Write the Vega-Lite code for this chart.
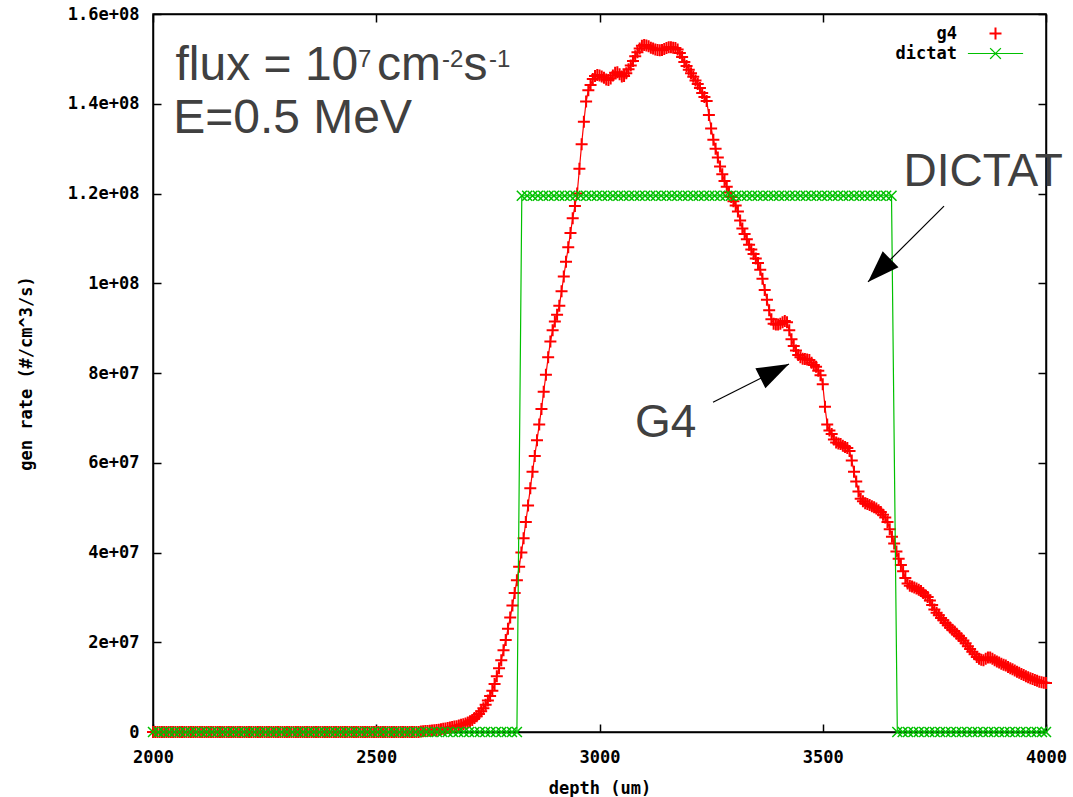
{
"$schema":"https://vega.github.io/schema/vega-lite/v6.json",
"width":893,"height":718,
"autosize":{"type":"none"},
"padding":{"left":153,"top":14,"right":27,"bottom":65},
"background":"white",
"config":{
 "view":{"stroke":"black","strokeWidth":1.5},
 "axis":{"grid":false,"domainColor":"black","domainWidth":1.5,"tickColor":"black","tickWidth":1.5,"labelFont":"DejaVu Sans Mono","labelFontWeight":"bold","labelFontSize":17,"labelColor":"black","titleFont":"DejaVu Sans Mono","titleFontWeight":"bold","titleFontSize":17,"titleColor":"black","labelFlush":false,"labelOverlap":false},
 "legend":{"orient":"none","title":null,"padding":0,"labelAlign":"right","labelOffset":-47,"labelFont":"DejaVu Sans Mono","labelFontWeight":"bold","labelFontSize":17,"labelColor":"black","symbolSize":144,"symbolFillColor":"transparent","symbolOpacity":1}
},
"datasets":{
"g4":[
{"depth":2000,"rate":0},{"depth":2005,"rate":0},{"depth":2010,"rate":0},{"depth":2015,"rate":0},{"depth":2020,"rate":0},{"depth":2025,"rate":0},{"depth":2030,"rate":0},{"depth":2035,"rate":0},{"depth":2040,"rate":0},{"depth":2045,"rate":0},
{"depth":2050,"rate":0},{"depth":2055,"rate":0},{"depth":2060,"rate":0},{"depth":2065,"rate":0},{"depth":2070,"rate":0},{"depth":2075,"rate":0},{"depth":2080,"rate":0},{"depth":2085,"rate":0},{"depth":2090,"rate":0},{"depth":2095,"rate":0},
{"depth":2100,"rate":0},{"depth":2105,"rate":0},{"depth":2110,"rate":0},{"depth":2115,"rate":0},{"depth":2120,"rate":0},{"depth":2125,"rate":0},{"depth":2130,"rate":0},{"depth":2135,"rate":0},{"depth":2140,"rate":0},{"depth":2145,"rate":0},
{"depth":2150,"rate":0},{"depth":2155,"rate":0},{"depth":2160,"rate":0},{"depth":2165,"rate":0},{"depth":2170,"rate":0},{"depth":2175,"rate":0},{"depth":2180,"rate":0},{"depth":2185,"rate":0},{"depth":2190,"rate":0},{"depth":2195,"rate":0},
{"depth":2200,"rate":0},{"depth":2205,"rate":0},{"depth":2210,"rate":0},{"depth":2215,"rate":0},{"depth":2220,"rate":0},{"depth":2225,"rate":0},{"depth":2230,"rate":0},{"depth":2235,"rate":0},{"depth":2240,"rate":0},{"depth":2245,"rate":0},
{"depth":2250,"rate":0},{"depth":2255,"rate":0},{"depth":2260,"rate":0},{"depth":2265,"rate":0},{"depth":2270,"rate":0},{"depth":2275,"rate":0},{"depth":2280,"rate":0},{"depth":2285,"rate":0},{"depth":2290,"rate":0},{"depth":2295,"rate":0},
{"depth":2300,"rate":0},{"depth":2305,"rate":0},{"depth":2310,"rate":0},{"depth":2315,"rate":0},{"depth":2320,"rate":0},{"depth":2325,"rate":0},{"depth":2330,"rate":0},{"depth":2335,"rate":0},{"depth":2340,"rate":0},{"depth":2345,"rate":0},
{"depth":2350,"rate":0},{"depth":2355,"rate":0},{"depth":2360,"rate":0},{"depth":2365,"rate":0},{"depth":2370,"rate":0},{"depth":2375,"rate":0},{"depth":2380,"rate":0},{"depth":2385,"rate":0},{"depth":2390,"rate":0},{"depth":2395,"rate":0},
{"depth":2400,"rate":0},{"depth":2405,"rate":0},{"depth":2410,"rate":0},{"depth":2415,"rate":0},{"depth":2420,"rate":0},{"depth":2425,"rate":0},{"depth":2430,"rate":0},{"depth":2435,"rate":0},{"depth":2440,"rate":0},{"depth":2445,"rate":0},
{"depth":2450,"rate":0},{"depth":2455,"rate":0},{"depth":2460,"rate":0},{"depth":2465,"rate":0},{"depth":2470,"rate":0},{"depth":2475,"rate":0},{"depth":2480,"rate":0},{"depth":2485,"rate":0},{"depth":2490,"rate":0},{"depth":2495,"rate":0},
{"depth":2500,"rate":0},{"depth":2505,"rate":0},{"depth":2510,"rate":0},{"depth":2515,"rate":0},{"depth":2520,"rate":0},{"depth":2525,"rate":0},{"depth":2530,"rate":0},{"depth":2535,"rate":0},{"depth":2540,"rate":0},{"depth":2545,"rate":0},
{"depth":2550,"rate":0},{"depth":2555,"rate":0},{"depth":2560,"rate":0},{"depth":2565,"rate":0},{"depth":2570,"rate":0},{"depth":2575,"rate":0},{"depth":2580,"rate":0},{"depth":2585,"rate":0},{"depth":2590,"rate":0},{"depth":2595,"rate":0},
{"depth":2600,"rate":0.1e6},{"depth":2605,"rate":0.15e6},{"depth":2610,"rate":0.2e6},{"depth":2615,"rate":0.25e6},{"depth":2620,"rate":0.3e6},{"depth":2625,"rate":0.35e6},{"depth":2630,"rate":0.4e6},{"depth":2635,"rate":0.45e6},{"depth":2640,"rate":0.5e6},{"depth":2645,"rate":0.6e6},
{"depth":2650,"rate":0.7e6},{"depth":2655,"rate":0.8e6},{"depth":2660,"rate":0.9e6},{"depth":2665,"rate":1.0e6},{"depth":2670,"rate":1.1e6},{"depth":2675,"rate":1.2e6},{"depth":2680,"rate":1.3e6},{"depth":2685,"rate":1.45e6},{"depth":2690,"rate":1.6e6},{"depth":2695,"rate":1.75e6},
{"depth":2700,"rate":1.9e6},{"depth":2705,"rate":2.1e6},{"depth":2710,"rate":2.4e6},{"depth":2715,"rate":2.7e6},{"depth":2720,"rate":3.1e6},{"depth":2725,"rate":3.5e6},{"depth":2730,"rate":4.0e6},{"depth":2735,"rate":4.6e6},{"depth":2740,"rate":5.3e6},{"depth":2745,"rate":6.1e6},
{"depth":2750,"rate":7.0e6},{"depth":2755,"rate":8.0e6},{"depth":2760,"rate":9.2e6},{"depth":2765,"rate":10.7e6},{"depth":2770,"rate":12.4e6},{"depth":2775,"rate":14.2e6},{"depth":2780,"rate":16.0e6},{"depth":2785,"rate":18.2e6},{"depth":2790,"rate":20.5e6},{"depth":2795,"rate":23.0e6},
{"depth":2800,"rate":25.5e6},{"depth":2805,"rate":28.2e6},{"depth":2810,"rate":31.0e6},{"depth":2815,"rate":33.8e6},{"depth":2820,"rate":36.8e6},{"depth":2825,"rate":40.0e6},{"depth":2830,"rate":43.2e6},{"depth":2835,"rate":46.8e6},{"depth":2840,"rate":50.5e6},{"depth":2845,"rate":54.3e6},
{"depth":2850,"rate":58.0e6},{"depth":2855,"rate":61.5e6},{"depth":2860,"rate":65.0e6},{"depth":2865,"rate":68.5e6},{"depth":2870,"rate":72.0e6},{"depth":2875,"rate":75.8e6},{"depth":2880,"rate":79.6e6},{"depth":2885,"rate":83.5e6},{"depth":2890,"rate":87.0e6},{"depth":2895,"rate":89.5e6},
{"depth":2900,"rate":91.5e6},{"depth":2905,"rate":93.0e6},{"depth":2910,"rate":95.0e6},{"depth":2915,"rate":98.2e6},{"depth":2920,"rate":101.5e6},{"depth":2925,"rate":104.8e6},{"depth":2930,"rate":108.0e6},{"depth":2935,"rate":111.2e6},{"depth":2940,"rate":114.5e6},{"depth":2945,"rate":117.2e6},
{"depth":2950,"rate":120.0e6},{"depth":2955,"rate":125.5e6},{"depth":2960,"rate":131.0e6},{"depth":2965,"rate":136.0e6},{"depth":2970,"rate":140.5e6},{"depth":2975,"rate":143.0e6},{"depth":2980,"rate":144.2e6},{"depth":2985,"rate":145.5e6},{"depth":2990,"rate":146.2e6},{"depth":2995,"rate":146.4e6},
{"depth":3000,"rate":146.3e6},{"depth":3005,"rate":146.1e6},{"depth":3010,"rate":145.8e6},{"depth":3015,"rate":145.4e6},{"depth":3020,"rate":145.3e6},{"depth":3025,"rate":145.6e6},{"depth":3030,"rate":146.3e6},{"depth":3035,"rate":146.9e6},{"depth":3040,"rate":147.0e6},{"depth":3045,"rate":146.6e6},
{"depth":3050,"rate":146.1e6},{"depth":3055,"rate":146.2e6},{"depth":3060,"rate":146.8e6},{"depth":3065,"rate":147.7e6},{"depth":3070,"rate":148.5e6},{"depth":3075,"rate":149.5e6},{"depth":3080,"rate":150.6e6},{"depth":3085,"rate":151.5e6},{"depth":3090,"rate":152.3e6},{"depth":3095,"rate":152.9e6},
{"depth":3100,"rate":153.1e6},{"depth":3105,"rate":153.0e6},{"depth":3110,"rate":152.8e6},{"depth":3115,"rate":152.5e6},{"depth":3120,"rate":152.3e6},{"depth":3125,"rate":152.1e6},{"depth":3130,"rate":152.0e6},{"depth":3135,"rate":151.9e6},{"depth":3140,"rate":152.0e6},{"depth":3145,"rate":152.2e6},
{"depth":3150,"rate":152.4e6},{"depth":3155,"rate":152.6e6},{"depth":3160,"rate":152.6e6},{"depth":3165,"rate":152.5e6},{"depth":3170,"rate":152.4e6},{"depth":3175,"rate":152.1e6},{"depth":3180,"rate":151.3e6},{"depth":3185,"rate":150.4e6},{"depth":3190,"rate":149.3e6},{"depth":3195,"rate":148.4e6},
{"depth":3200,"rate":147.6e6},{"depth":3205,"rate":146.8e6},{"depth":3210,"rate":146.0e6},{"depth":3215,"rate":145.2e6},{"depth":3220,"rate":144.4e6},{"depth":3225,"rate":143.5e6},{"depth":3230,"rate":142.4e6},{"depth":3235,"rate":141.5e6},{"depth":3240,"rate":140.6e6},{"depth":3245,"rate":137.5e6},
{"depth":3250,"rate":134.5e6},{"depth":3255,"rate":132.0e6},{"depth":3260,"rate":130.0e6},{"depth":3265,"rate":128.0e6},{"depth":3270,"rate":126.0e6},{"depth":3275,"rate":124.3e6},{"depth":3280,"rate":122.8e6},{"depth":3285,"rate":121.5e6},{"depth":3290,"rate":120.2e6},{"depth":3295,"rate":119.2e6},
{"depth":3300,"rate":118.3e6},{"depth":3305,"rate":117.3e6},{"depth":3310,"rate":116.0e6},{"depth":3315,"rate":114.0e6},{"depth":3320,"rate":112.2e6},{"depth":3325,"rate":111.0e6},{"depth":3330,"rate":109.8e6},{"depth":3335,"rate":108.6e6},{"depth":3340,"rate":107.5e6},{"depth":3345,"rate":106.5e6},
{"depth":3350,"rate":105.5e6},{"depth":3355,"rate":104.5e6},{"depth":3360,"rate":103.0e6},{"depth":3365,"rate":101.0e6},{"depth":3370,"rate":98.5e6},{"depth":3375,"rate":96.3e6},{"depth":3380,"rate":94.0e6},{"depth":3385,"rate":92.0e6},{"depth":3390,"rate":91.0e6},{"depth":3395,"rate":90.8e6},
{"depth":3400,"rate":90.8e6},{"depth":3405,"rate":91.0e6},{"depth":3410,"rate":91.3e6},{"depth":3415,"rate":91.6e6},{"depth":3420,"rate":91.3e6},{"depth":3425,"rate":89.5e6},{"depth":3430,"rate":87.5e6},{"depth":3435,"rate":86.0e6},{"depth":3440,"rate":85.0e6},{"depth":3445,"rate":84.0e6},
{"depth":3450,"rate":83.5e6},{"depth":3455,"rate":83.2e6},{"depth":3460,"rate":83.1e6},{"depth":3465,"rate":83.0e6},{"depth":3470,"rate":82.9e6},{"depth":3475,"rate":82.3e6},{"depth":3480,"rate":81.8e6},{"depth":3485,"rate":81.4e6},{"depth":3490,"rate":80.5e6},{"depth":3495,"rate":79.5e6},
{"depth":3500,"rate":77.5e6},{"depth":3505,"rate":72.5e6},{"depth":3510,"rate":68.5e6},{"depth":3515,"rate":67.2e6},{"depth":3520,"rate":66.4e6},{"depth":3525,"rate":65.2e6},{"depth":3530,"rate":64.5e6},{"depth":3535,"rate":64.3e6},{"depth":3540,"rate":64.2e6},{"depth":3545,"rate":63.8e6},
{"depth":3550,"rate":63.5e6},{"depth":3555,"rate":63.3e6},{"depth":3560,"rate":62.6e6},{"depth":3565,"rate":60.5e6},{"depth":3570,"rate":58.0e6},{"depth":3575,"rate":55.8e6},{"depth":3580,"rate":53.6e6},{"depth":3585,"rate":52.0e6},{"depth":3590,"rate":51.4e6},{"depth":3595,"rate":51.0e6},
{"depth":3600,"rate":50.8e6},{"depth":3605,"rate":50.6e6},{"depth":3610,"rate":50.3e6},{"depth":3615,"rate":50.1e6},{"depth":3620,"rate":49.8e6},{"depth":3625,"rate":49.4e6},{"depth":3630,"rate":49.0e6},{"depth":3635,"rate":48.4e6},{"depth":3640,"rate":47.8e6},{"depth":3645,"rate":46.8e6},
{"depth":3650,"rate":45.2e6},{"depth":3655,"rate":43.5e6},{"depth":3660,"rate":42.0e6},{"depth":3665,"rate":40.2e6},{"depth":3670,"rate":38.6e6},{"depth":3675,"rate":37.2e6},{"depth":3680,"rate":35.8e6},{"depth":3685,"rate":34.3e6},{"depth":3690,"rate":33.1e6},{"depth":3695,"rate":32.6e6},
{"depth":3700,"rate":32.4e6},{"depth":3705,"rate":32.2e6},{"depth":3710,"rate":32.0e6},{"depth":3715,"rate":31.7e6},{"depth":3720,"rate":31.4e6},{"depth":3725,"rate":31.0e6},{"depth":3730,"rate":30.5e6},{"depth":3735,"rate":30.1e6},{"depth":3740,"rate":29.3e6},{"depth":3745,"rate":28.3e6},
{"depth":3750,"rate":27.3e6},{"depth":3755,"rate":26.6e6},{"depth":3760,"rate":26.0e6},{"depth":3765,"rate":25.4e6},{"depth":3770,"rate":24.9e6},{"depth":3775,"rate":24.3e6},{"depth":3780,"rate":23.8e6},{"depth":3785,"rate":23.3e6},{"depth":3790,"rate":22.8e6},{"depth":3795,"rate":22.4e6},
{"depth":3800,"rate":21.9e6},{"depth":3805,"rate":21.4e6},{"depth":3810,"rate":20.9e6},{"depth":3815,"rate":20.4e6},{"depth":3820,"rate":19.8e6},{"depth":3825,"rate":19.1e6},{"depth":3830,"rate":18.5e6},{"depth":3835,"rate":17.9e6},{"depth":3840,"rate":17.3e6},{"depth":3845,"rate":16.7e6},
{"depth":3850,"rate":16.3e6},{"depth":3855,"rate":16.1e6},{"depth":3860,"rate":16.0e6},{"depth":3865,"rate":16.3e6},{"depth":3870,"rate":16.6e6},{"depth":3875,"rate":16.6e6},{"depth":3880,"rate":16.3e6},{"depth":3885,"rate":16.0e6},{"depth":3890,"rate":15.7e6},{"depth":3895,"rate":15.5e6},
{"depth":3900,"rate":15.2e6},{"depth":3905,"rate":15.0e6},{"depth":3910,"rate":14.8e6},{"depth":3915,"rate":14.5e6},{"depth":3920,"rate":14.2e6},{"depth":3925,"rate":14.0e6},{"depth":3930,"rate":13.7e6},{"depth":3935,"rate":13.4e6},{"depth":3940,"rate":13.2e6},{"depth":3945,"rate":12.9e6},
{"depth":3950,"rate":12.7e6},{"depth":3955,"rate":12.4e6},{"depth":3960,"rate":12.2e6},{"depth":3965,"rate":12.0e6},{"depth":3970,"rate":11.8e6},{"depth":3975,"rate":11.6e6},{"depth":3980,"rate":11.4e6},{"depth":3985,"rate":11.2e6},{"depth":3990,"rate":11.1e6},{"depth":3995,"rate":11.0e6},
{"depth":4000,"rate":10.9e6}
],
"dictat":[
{"depth":2000,"rate":0},{"depth":2012,"rate":0},{"depth":2024,"rate":0},{"depth":2036,"rate":0},{"depth":2048,"rate":0},{"depth":2060,"rate":0},{"depth":2072,"rate":0},{"depth":2084,"rate":0},{"depth":2096,"rate":0},{"depth":2108,"rate":0},
{"depth":2120,"rate":0},{"depth":2132,"rate":0},{"depth":2144,"rate":0},{"depth":2156,"rate":0},{"depth":2168,"rate":0},{"depth":2180,"rate":0},{"depth":2192,"rate":0},{"depth":2204,"rate":0},{"depth":2216,"rate":0},{"depth":2228,"rate":0},
{"depth":2240,"rate":0},{"depth":2252,"rate":0},{"depth":2264,"rate":0},{"depth":2276,"rate":0},{"depth":2288,"rate":0},{"depth":2300,"rate":0},{"depth":2312,"rate":0},{"depth":2324,"rate":0},{"depth":2336,"rate":0},{"depth":2348,"rate":0},
{"depth":2360,"rate":0},{"depth":2372,"rate":0},{"depth":2384,"rate":0},{"depth":2396,"rate":0},{"depth":2408,"rate":0},{"depth":2420,"rate":0},{"depth":2432,"rate":0},{"depth":2444,"rate":0},{"depth":2456,"rate":0},{"depth":2468,"rate":0},
{"depth":2480,"rate":0},{"depth":2492,"rate":0},{"depth":2504,"rate":0},{"depth":2516,"rate":0},{"depth":2528,"rate":0},{"depth":2540,"rate":0},{"depth":2552,"rate":0},{"depth":2564,"rate":0},{"depth":2576,"rate":0},{"depth":2588,"rate":0},
{"depth":2600,"rate":0},{"depth":2612,"rate":0},{"depth":2624,"rate":0},{"depth":2636,"rate":0},{"depth":2648,"rate":0},{"depth":2660,"rate":0},{"depth":2672,"rate":0},{"depth":2684,"rate":0},{"depth":2696,"rate":0},{"depth":2708,"rate":0},
{"depth":2720,"rate":0},{"depth":2732,"rate":0},{"depth":2744,"rate":0},{"depth":2756,"rate":0},{"depth":2768,"rate":0},{"depth":2780,"rate":0},{"depth":2792,"rate":0},{"depth":2804,"rate":0},{"depth":2815,"rate":0},
{"depth":2826,"rate":119.5e6},{"depth":2838,"rate":119.5e6},{"depth":2850,"rate":119.5e6},{"depth":2862,"rate":119.5e6},{"depth":2874,"rate":119.5e6},{"depth":2886,"rate":119.5e6},{"depth":2898,"rate":119.5e6},{"depth":2910,"rate":119.5e6},{"depth":2922,"rate":119.5e6},{"depth":2934,"rate":119.5e6},
{"depth":2946,"rate":119.5e6},{"depth":2958,"rate":119.5e6},{"depth":2970,"rate":119.5e6},{"depth":2982,"rate":119.5e6},{"depth":2994,"rate":119.5e6},{"depth":3006,"rate":119.5e6},{"depth":3018,"rate":119.5e6},{"depth":3030,"rate":119.5e6},{"depth":3042,"rate":119.5e6},{"depth":3054,"rate":119.5e6},
{"depth":3066,"rate":119.5e6},{"depth":3078,"rate":119.5e6},{"depth":3090,"rate":119.5e6},{"depth":3102,"rate":119.5e6},{"depth":3114,"rate":119.5e6},{"depth":3126,"rate":119.5e6},{"depth":3138,"rate":119.5e6},{"depth":3150,"rate":119.5e6},{"depth":3162,"rate":119.5e6},{"depth":3174,"rate":119.5e6},
{"depth":3186,"rate":119.5e6},{"depth":3198,"rate":119.5e6},{"depth":3210,"rate":119.5e6},{"depth":3222,"rate":119.5e6},{"depth":3234,"rate":119.5e6},{"depth":3246,"rate":119.5e6},{"depth":3258,"rate":119.5e6},{"depth":3270,"rate":119.5e6},{"depth":3282,"rate":119.5e6},{"depth":3294,"rate":119.5e6},
{"depth":3306,"rate":119.5e6},{"depth":3318,"rate":119.5e6},{"depth":3330,"rate":119.5e6},{"depth":3342,"rate":119.5e6},{"depth":3354,"rate":119.5e6},{"depth":3366,"rate":119.5e6},{"depth":3378,"rate":119.5e6},{"depth":3390,"rate":119.5e6},{"depth":3402,"rate":119.5e6},{"depth":3414,"rate":119.5e6},
{"depth":3426,"rate":119.5e6},{"depth":3438,"rate":119.5e6},{"depth":3450,"rate":119.5e6},{"depth":3462,"rate":119.5e6},{"depth":3474,"rate":119.5e6},{"depth":3486,"rate":119.5e6},{"depth":3498,"rate":119.5e6},{"depth":3510,"rate":119.5e6},{"depth":3522,"rate":119.5e6},{"depth":3534,"rate":119.5e6},
{"depth":3546,"rate":119.5e6},{"depth":3558,"rate":119.5e6},{"depth":3570,"rate":119.5e6},{"depth":3582,"rate":119.5e6},{"depth":3594,"rate":119.5e6},{"depth":3606,"rate":119.5e6},{"depth":3618,"rate":119.5e6},{"depth":3630,"rate":119.5e6},{"depth":3642,"rate":119.5e6},{"depth":3654,"rate":119.5e6},
{"depth":3667,"rate":0},{"depth":3679,"rate":0},{"depth":3691,"rate":0},{"depth":3703,"rate":0},{"depth":3715,"rate":0},{"depth":3727,"rate":0},{"depth":3739,"rate":0},{"depth":3751,"rate":0},{"depth":3763,"rate":0},{"depth":3775,"rate":0},
{"depth":3787,"rate":0},{"depth":3799,"rate":0},{"depth":3811,"rate":0},{"depth":3823,"rate":0},{"depth":3835,"rate":0},{"depth":3847,"rate":0},{"depth":3859,"rate":0},{"depth":3871,"rate":0},{"depth":3883,"rate":0},{"depth":3895,"rate":0},
{"depth":3907,"rate":0},{"depth":3919,"rate":0},{"depth":3931,"rate":0},{"depth":3943,"rate":0},{"depth":3955,"rate":0},{"depth":3967,"rate":0},{"depth":3979,"rate":0},{"depth":3991,"rate":0},{"depth":4000,"rate":0}
],
"arrows":[
{"label":"DICTAT","depth":3771.6,"rate":117.2e6,"depth2":3601.3,"rate2":100.3e6},
{"label":"G4","depth":3254.2,"rate":73.5e6,"depth2":3424.4,"rate2":82.0e6}
],
"note":[
{"text":"flux = 10","depth":2050.4,"rate":145.3e6},
{"text":"cm","depth":2501.7,"rate":145.3e6},
{"text":"s","depth":2695.4,"rate":145.3e6},
{"text":"E=0.5 MeV","depth":2045.2,"rate":133.5e6}
],
"sup":[
{"text":"7","depth":2459,"rate":148.2e6},
{"text":"-2","depth":2647.3,"rate":148.2e6},
{"text":"-1","depth":2752.5,"rate":148.2e6}
],
"callouts":[
{"text":"DICTAT","depth":3681,"rate":121.7e6},
{"text":"G4","depth":3079.5,"rate":65.7e6}
]
},
"resolve":{"axis":{"x":"independent","y":"independent"}},
"layer":[
{"data":{"name":"g4"},
 "mark":{"type":"line","color":"#ff0000","strokeWidth":1.2},
 "encoding":{
  "x":{"field":"depth","type":"quantitative","scale":{"domain":[2000,4000],"nice":false,"zero":false},
       "axis":{"orient":"bottom","values":[2000,2500,3000,3500,4000],"format":"d","title":"depth (um)","tickSize":-8,"labelPadding":33,"labelBaseline":"middle","titleY":56,"titleBaseline":"middle"}},
  "y":{"field":"rate","type":"quantitative","scale":{"domain":[0,160000000],"nice":false},
       "axis":{"orient":"left","values":[0,20000000,40000000,60000000,80000000,100000000,120000000,140000000,160000000],"labelExpr":"datum.value == 0 ? '0' : replace(format(datum.value, '.2~e'), 'e+', 'e+0')","title":"gen rate (#/cm^3/s)","tickSize":-8,"labelPadding":22,"titleX":-127,"titleBaseline":"middle"}}
 }},
{"data":{"name":"g4"},
 "mark":{"type":"point","filled":false,"size":144,"strokeWidth":2,"opacity":1,"color":"#ff0000"},
 "encoding":{
  "x":{"field":"depth","type":"quantitative","axis":null},
  "y":{"field":"rate","type":"quantitative","axis":null},
  "shape":{"datum":"g4","type":"nominal","scale":{"domain":["g4"],"range":["M-1,0H1M0,-1V1"]},
    "legend":{"legendX":834,"legendY":11,"symbolStrokeWidth":2,"symbolStrokeColor":"#ff0000"}}
 }},
{"data":{"name":"dictat"},
 "mark":{"type":"line","strokeWidth":1.2,"color":"#00c000"},
 "encoding":{
  "x":{"field":"depth","type":"quantitative",
       "axis":{"orient":"top","values":[2000,2500,3000,3500,4000],"labels":false,"title":null,"tickSize":-8}},
  "y":{"field":"rate","type":"quantitative",
       "axis":{"orient":"right","values":[0,20000000,40000000,60000000,80000000,100000000,120000000,140000000,160000000],"labels":false,"title":null,"tickSize":-8}},
  "strokeDash":{"datum":"dictat","type":"nominal","scale":{"domain":["dictat"],"range":[[1,0]]},
    "legend":{"legendX":834,"legendY":31,"symbolType":"M-4.6,0H4.6M-0.9,-0.9L0.9,0.9M0.9,-0.9L-0.9,0.9","symbolStrokeWidth":1.2,"symbolStrokeColor":"#00c000"}}
 }},
{"data":{"name":"dictat"},
 "mark":{"type":"point","shape":"M-1,-1L1,1M1,-1L-1,1","filled":false,"size":100,"strokeWidth":1.5,"opacity":1,"color":"#00c000"},
 "encoding":{
  "x":{"field":"depth","type":"quantitative","axis":null},
  "y":{"field":"rate","type":"quantitative","axis":null}
 }},
{"data":{"name":"arrows"},
 "mark":{"type":"rule","color":"black","strokeWidth":1.2},
 "encoding":{
  "x":{"field":"depth","type":"quantitative","axis":null},
  "y":{"field":"rate","type":"quantitative","axis":null},
  "x2":{"field":"depth2"},
  "y2":{"field":"rate2"}
 }},
{"data":{"name":"arrows"},
 "transform":[{"filter":"datum.label === 'DICTAT'"}],
 "mark":{"type":"point","shape":"M0,0L-0.35,1L0.35,1Z","filled":true,"size":4096,"angle":225,"color":"black","opacity":1},
 "encoding":{
  "x":{"field":"depth2","type":"quantitative","axis":null},
  "y":{"field":"rate2","type":"quantitative","axis":null}
 }},
{"data":{"name":"arrows"},
 "transform":[{"filter":"datum.label === 'G4'"}],
 "mark":{"type":"point","shape":"M0,0L-0.35,1L0.35,1Z","filled":true,"size":4096,"angle":63.4,"color":"black","opacity":1},
 "encoding":{
  "x":{"field":"depth2","type":"quantitative","axis":null},
  "y":{"field":"rate2","type":"quantitative","axis":null}
 }},
{"data":{"name":"note"},
 "mark":{"type":"text","font":"Liberation Sans","fontSize":48,"color":"#404040","align":"left","baseline":"alphabetic"},
 "encoding":{
  "x":{"field":"depth","type":"quantitative","axis":null},
  "y":{"field":"rate","type":"quantitative","axis":null},
  "text":{"field":"text"}
 }},
{"data":{"name":"sup"},
 "mark":{"type":"text","font":"Liberation Sans","fontSize":24,"color":"#404040","align":"left","baseline":"alphabetic"},
 "encoding":{
  "x":{"field":"depth","type":"quantitative","axis":null},
  "y":{"field":"rate","type":"quantitative","axis":null},
  "text":{"field":"text"}
 }},
{"data":{"name":"callouts"},
 "mark":{"type":"text","font":"Liberation Sans","fontSize":46,"color":"#404040","align":"left","baseline":"alphabetic"},
 "encoding":{
  "x":{"field":"depth","type":"quantitative","axis":null},
  "y":{"field":"rate","type":"quantitative","axis":null},
  "text":{"field":"text"}
 }}
]
}
